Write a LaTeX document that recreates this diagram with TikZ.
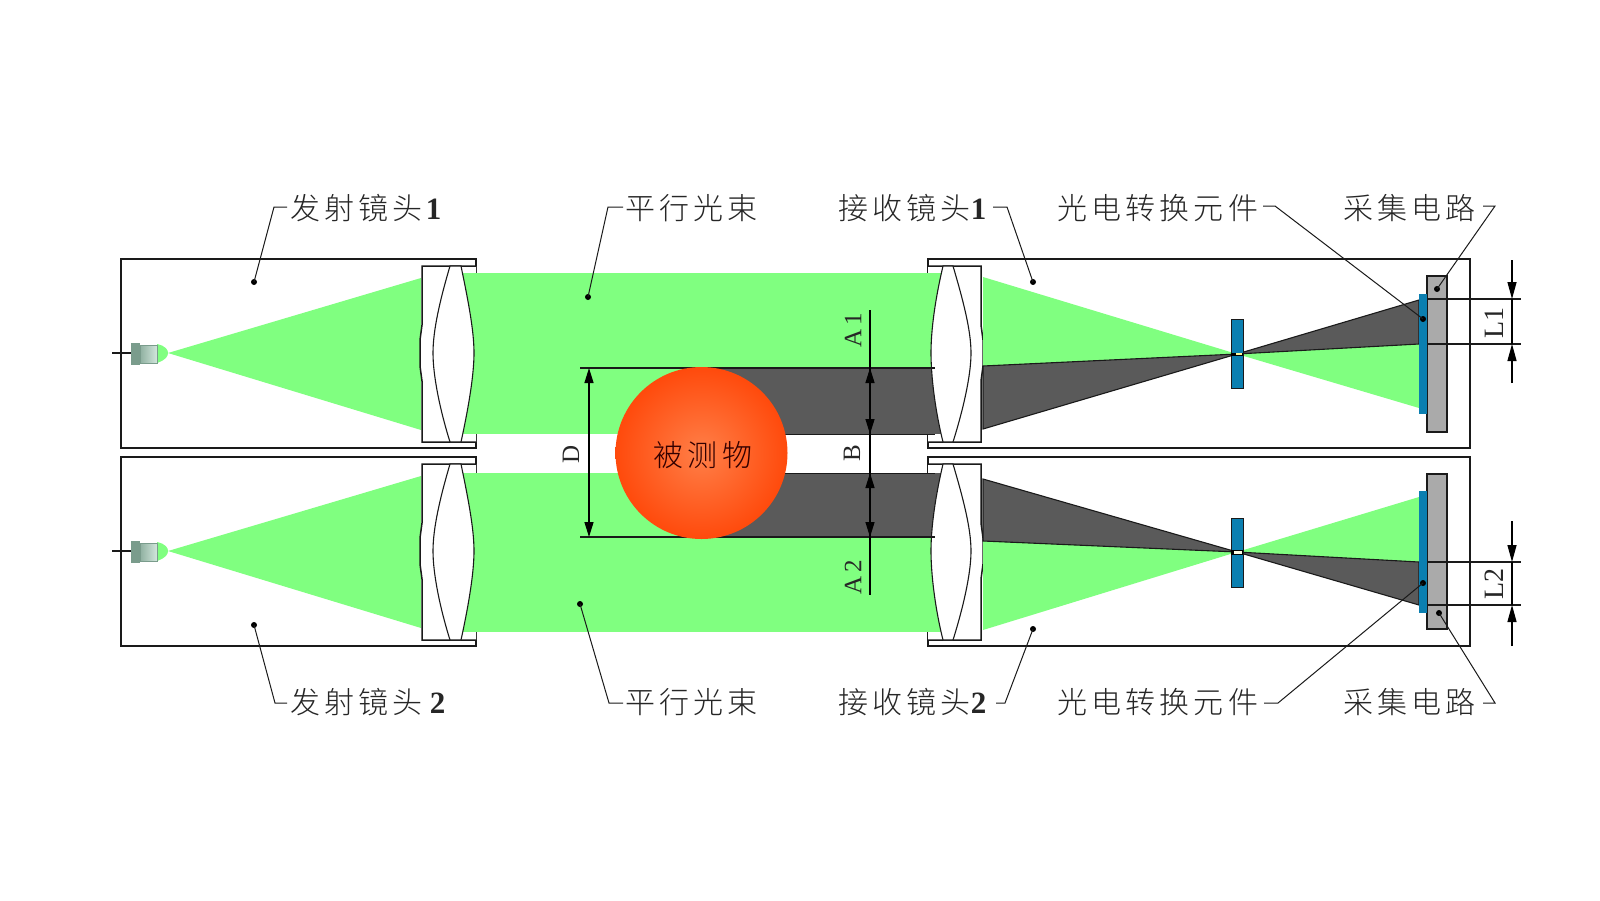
\documentclass[tikz,border=0pt]{standalone}
\usepackage{fontspec}
\usetikzlibrary{arrows.meta,calc}
\newfontfamily\cjk[LetterSpace=14,UprightFont={* Light}]{Noto Sans CJK SC}
\newfontfamily\lat{Liberation Serif}
\definecolor{beam}{HTML}{80FF80}
\definecolor{darkbeam}{HTML}{5A5A5A}
\definecolor{plate}{HTML}{0B7FB0}
\definecolor{board}{HTML}{AAAAAA}
\definecolor{line}{HTML}{1A1A1A}
\definecolor{ballin}{HTML}{FF7F48}
\definecolor{ballout}{HTML}{FF4A0C}
\definecolor{emdark}{HTML}{7A9C8C}
\definecolor{emmid}{HTML}{8FB0A0}
\definecolor{emlight}{HTML}{D2E6DC}
\tikzset{
 x=1pt,y=-1pt,
 frame/.style={draw=line,line width=1.5pt},
 thin line/.style={draw=line,line width=1.1pt},
 lead/.style={draw=line,line width=1pt},
 dotmark/.style={fill=black,circle,inner sep=0pt,minimum size=6pt},
 lab/.style={font=\fontsize{30}{30}\selectfont\cjk,anchor=west,inner sep=0pt,text=black!85},
 dimlab/.style={font=\fontsize{25}{25}\selectfont\lat,rotate=90,inner sep=0pt,text=black!85},
 dim/.style={draw=black,line width=1.3pt},
}
\newcommand{\dg}[1]{{\fontsize{31}{31}\selectfont\lat\bfseries #1}}
\newcommand{\housing}[1]{
 \begin{scope}[yshift=-#1pt]
  \draw[frame] (121,259) rectangle (476,448);
  \draw[frame] (928,259) -- (928,448) -- (1470,448) -- (1470,259) -- cycle;
  \fill[beam] (168,353) -- (421,278) -- (421,430) -- cycle;
  \fill[beam] (157,344) .. controls (166,346) and (168,350) .. (168,353) .. controls (168,356) and (166,360) .. (157,363) -- cycle;
  \draw[frame,fill=white] (476,266) -- (422,266) -- (422,325) -- (420,340) -- (420,366) -- (422,381) -- (422,442) -- (476,442);
  \draw[frame,fill=white] (928,266) -- (981,266) -- (981,325) -- (983,340) -- (983,366) -- (981,381) -- (981,442) -- (928,442);
  \fill[emdark] (131,343) rectangle (140,365);
  \draw[draw=emdark,line width=.8pt,left color=emmid,right color=emlight] (140,345) rectangle (157,363);
  \draw[frame] (112,353) -- (131,353);
 \end{scope}
}
\newcommand{\lens}[1]{
 \begin{scope}[yshift=-#1pt]
  \draw[thin line,fill=white] (450,266) .. controls (440,300) and (433,330) .. (433,353) .. controls (433,376) and (440,410) .. (450,442) -- (461,442) .. controls (468,410) and (474,376) .. (474,353) .. controls (474,330) and (468,300) .. (461,266) -- cycle;
  \draw[thin line,fill=white] (943,266) .. controls (935,300) and (931,330) .. (931,353) .. controls (931,376) and (935,410) .. (943,442) -- (953,442) .. controls (963,410) and (971,376) .. (971,353) .. controls (971,330) and (963,300) .. (953,266) -- cycle;
 \end{scope}
}
\begin{document}
\begin{tikzpicture}
\useasboundingbox (0,0) rectangle (1600,900);
\fill[white] (0,0) rectangle (1600,900);
\housing{0}
\housing{198}
% parallel beams
\fill[beam] (461,273) rectangle (943,434);
\fill[beam] (461,473) rectangle (943,632);
\fill[darkbeam] (702,367) rectangle (943,434);
\fill[darkbeam] (702,473) rectangle (943,537);
% lenses
\lens{0}\lens{198}
% receiver cones, upper
\fill[beam] (983,277) -- (1237,354) -- (983,366) -- cycle;
\draw[frame,fill=darkbeam,line width=1.1pt] (983,366) -- (1237,354) -- (983,429) -- cycle;
\fill[beam] (1237,354) -- (1419,344) -- (1419,408) -- cycle;
\draw[frame,fill=darkbeam,line width=1.1pt] (1237,354) -- (1419,300) -- (1419,344) -- cycle;
% receiver cones, lower
\fill[beam] (983,541) -- (1237,552) -- (983,630) -- cycle;
\draw[frame,fill=darkbeam,line width=1.1pt] (983,479) -- (1237,552) -- (983,541) -- cycle;
\fill[beam] (1237,552) -- (1419,497) -- (1419,562) -- cycle;
\draw[frame,fill=darkbeam,line width=1.1pt] (1237,552) -- (1419,562) -- (1419,605) -- cycle;
% pinholes
\draw[fill=plate,draw=line,line width=.9pt] (1231,319) rectangle (1243,388);
\draw[fill=plate,draw=line,line width=.9pt] (1231,518) rectangle (1243,587);
\fill[black] (1231,352.5) rectangle (1243,355.5);
\fill[black] (1231,550) rectangle (1243,555);
\fill[yellow!40!white] (1236,353) rectangle (1242,355);
\fill[yellow!10!white] (1234,551) rectangle (1242,554);
% detectors
\draw[fill=board,draw=line,line width=1.2pt] (1427,276) rectangle (1447,432);
\draw[fill=board,draw=line,line width=1.2pt] (1427,474) rectangle (1447,629);
\fill[plate] (1419,294) rectangle (1427,414);
\fill[plate] (1419,491) rectangle (1427,613);
% ball
\draw[thin line] (580,368) -- (935,368);
\draw[thin line] (580,537) -- (935,537);
\draw[line width=.9pt,draw=line] (760,434) -- (935,434) (760,473) -- (935,473);
\shade[inner color=ballin,outer color=ballout] (701.5,453) circle (86);
\node[lab,anchor=center,text=black!80!red] (obj) at (703,455) {被测物};
% dimension lines
\coordinate (da) at (589,368); \coordinate (db) at (589,537);
\draw[dim,{Stealth[length=15pt,width=9pt,inset=0pt]}-{Stealth[length=15pt,width=9pt,inset=0pt]}] (da) -- (db);
\coordinate (va) at (870,310); \coordinate (vb) at (870,595);
\draw[dim] (va) -- (vb);
\coordinate (a1) at (870,368); \coordinate (a2) at (870,434);
\coordinate (b1) at (870,473); \coordinate (b2) at (870,537);
\draw[dim,{Stealth[length=15pt,width=9pt,inset=0pt]}-{Stealth[length=15pt,width=9pt,inset=0pt]}] (a1) -- (a2);
\draw[dim,{Stealth[length=15pt,width=9pt,inset=0pt]}-{Stealth[length=15pt,width=9pt,inset=0pt]}] (b1) -- (b2);
\node[dimlab] (tD) at (571,454) {D};
\node[dimlab] (tB) at (852,453) {B};
\node[dimlab] (tA1) at (853,330) {A\,1};
\node[dimlab] (tA2) at (853,577) {A\,2};
% L dims
\draw[thin line] (1427,299) -- (1521,299) (1427,344) -- (1521,344);
\draw[thin line] (1427,562) -- (1521,562) (1427,605) -- (1521,605);
\coordinate (l1t) at (1512,260); \coordinate (l1a) at (1512,299); \coordinate (l1b) at (1512,344); \coordinate (l1e) at (1512,383);
\draw[dim] (l1a) -- (l1b);
\draw[dim,-{Stealth[length=17pt,width=9pt,inset=0pt]}] (l1t) -- (l1a);
\draw[dim,-{Stealth[length=17pt,width=9pt,inset=0pt]}] (l1e) -- (l1b);
\coordinate (l2t) at (1512,521); \coordinate (l2a) at (1512,562); \coordinate (l2b) at (1512,605); \coordinate (l2e) at (1512,646);
\draw[dim] (l2a) -- (l2b);
\draw[dim,-{Stealth[length=17pt,width=9pt,inset=0pt]}] (l2t) -- (l2a);
\draw[dim,-{Stealth[length=17pt,width=9pt,inset=0pt]}] (l2e) -- (l2b);
\node[dimlab,font=\fontsize{28}{28}\selectfont\lat] (tL1) at (1494,323) {L1};
\node[dimlab,font=\fontsize{28}{28}\selectfont\lat] (tL2) at (1494,584) {L2};
% labels
\node[lab] (e1) at (290,208) {发射镜头\kern3pt\dg{1}};
\node[lab] (p1) at (625,208) {平行光束};
\node[lab] (r1) at (838,208) {接收镜头\dg{1}};
\node[lab] (c1) at (1057,208) {光电转换元件};
\node[lab] (g1) at (1343,208) {采集电路};
\node[lab] (e2) at (290,702) {发射镜头\kern7pt\dg{2}};
\node[lab] (p2) at (625,702) {平行光束};
\node[lab] (r2) at (838,702) {接收镜头\dg{2}};
\node[lab] (c2) at (1057,702) {光电转换元件};
\node[lab] (g2) at (1343,702) {采集电路};
% leaders
\node[dotmark] (de1) at (254,282) {};
\node[dotmark] (dp1) at (588,297) {};
\node[dotmark] (dr1) at (1033,282) {};
\node[dotmark] (dc1) at (1423,319) {};
\node[dotmark] (dg1) at (1437,289) {};
\node[dotmark] (de2) at (254,625) {};
\node[dotmark] (dp2) at (580,604) {};
\node[dotmark] (dr2) at (1033,629) {};
\node[dotmark] (dc2) at (1423,583) {};
\node[dotmark] (dg2) at (1439,613) {};
\coordinate (ke1) at (274,207); \coordinate (ke1b) at (287,207);
\coordinate (kp1) at (608,207); \coordinate (kp1b) at (623,207);
\coordinate (kr1) at (1007,207); \coordinate (kr1b) at (993,207);
\coordinate (kc1) at (1275,206); \coordinate (kc1b) at (1263,206);
\coordinate (kg1) at (1495,206); \coordinate (kg1b) at (1483,206);
\coordinate (ke2) at (275,703); \coordinate (ke2b) at (287,703);
\coordinate (kp2) at (609,703); \coordinate (kp2b) at (623,703);
\coordinate (kr2) at (1005,703); \coordinate (kr2b) at (996,703);
\coordinate (kc2) at (1278,703); \coordinate (kc2b) at (1264,703);
\coordinate (kg2) at (1495,703); \coordinate (kg2b) at (1483,703);
\draw[lead] (de1.center) -- (ke1) -- (ke1b);
\draw[lead] (dp1.center) -- (kp1) -- (kp1b);
\draw[lead] (dr1.center) -- (kr1) -- (kr1b);
\draw[lead] (dc1.center) -- (kc1) -- (kc1b);
\draw[lead] (dg1.center) -- (kg1) -- (kg1b);
\draw[lead] (de2.center) -- (ke2) -- (ke2b);
\draw[lead] (dp2.center) -- (kp2) -- (kp2b);
\draw[lead] (dr2.center) -- (kr2) -- (kr2b);
\draw[lead] (dc2.center) -- (kc2) -- (kc2b);
\draw[lead] (dg2.center) -- (kg2) -- (kg2b);
\end{tikzpicture}
\end{document}
